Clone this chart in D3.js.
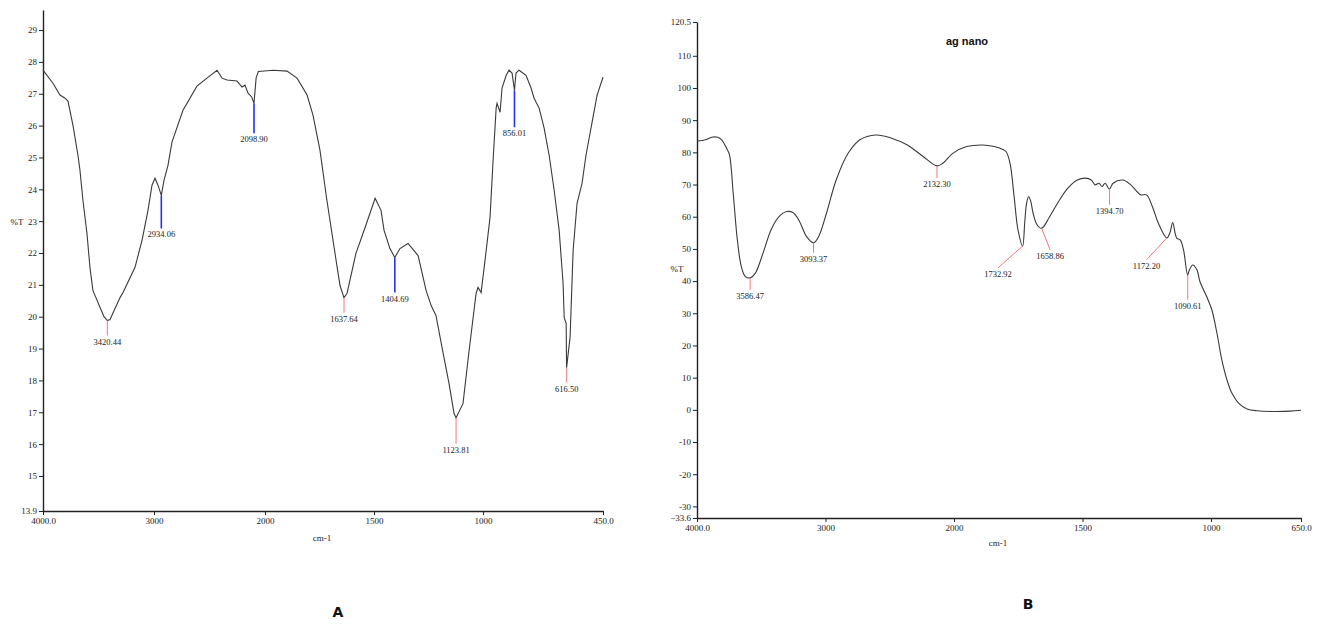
<!DOCTYPE html>
<html>
<head>
<meta charset="utf-8">
<script src="https://cdn.jsdelivr.net/npm/d3@7/dist/d3.min.js"></script>
<style>
  body { margin: 0; background: #fff; }
  svg { display: block; }
  .tick text { font-family: "Liberation Serif", "DejaVu Serif", serif; font-size: 9px; fill: #222; }
  .lbl { font-family: "Liberation Serif", serif; font-size: 8.5px; fill: #222; }
</style>
</head>
<body>
<svg id="chart" width="1317" height="624"></svg>
<script>
// ---------------- Data: panel A ----------------
const wavenumberA = [4000,3910,3847,3802,3775,3730,3685,3667,3640,3604,3577,3550,3523,3486,3450,3420,3396,3351,3306,3279,3171,3108,3054,3018,2991,2964,2934,2910,2874,2838,2739,2613,2523,2432,2387,2342,2252,2207,2180,2153,2120,2099,2080,2060,1963,1899,1853,1807,1780,1748,1716,1674,1656,1638,1624,1583,1541,1495,1468,1454,1427,1405,1381,1344,1298,1261,1238,1216,1188,1156,1133,1124,1092,1064,1032,1023,1009,991,968,954,940,936,922,913,894,881,867,856,849,835,803,780,766,743,720,697,674,651,633,628,619,617,601,587,569,546,528,500,477,450];
const transA = [27.74,27.33,26.96,26.86,26.77,26.01,25.07,24.6,23.65,22.62,21.55,20.82,20.6,20.29,20.0,19.88,19.91,20.26,20.6,20.76,21.55,22.4,23.34,24.13,24.35,24.13,23.81,24.28,24.75,25.48,26.48,27.24,27.49,27.74,27.49,27.43,27.4,27.21,27.27,27.02,26.9,26.7,27.5,27.7,27.74,27.71,27.49,26.96,26.33,25.23,23.65,21.77,20.98,20.6,20.73,21.99,22.8,23.72,23.34,22.71,22.14,21.86,22.14,22.3,21.92,20.82,20.35,20.04,19.03,17.9,16.96,16.83,17.27,18.94,20.73,20.92,20.76,21.77,23.12,24.91,26.55,26.7,26.42,27.18,27.58,27.74,27.65,27.11,27.65,27.74,27.58,27.18,26.86,26.55,25.92,25.07,23.97,22.71,21.04,19.97,19.79,18.4,19.35,22.08,23.56,24.19,25.07,26.11,26.96,27.52];
const peakWA = [3420.44, 2934.06, 2098.90, 1637.64, 1404.69, 1123.81, 856.01, 616.50];
const peakTA = [19.88, 23.81, 26.7, 20.6, 21.86, 16.83, 27.11, 18.4];
const peakEndTA = [19.41, 22.77, 25.76, 20.13, 20.76, 16.01, 25.95, 17.93];
const peakKindA = ["main","minor","minor","main","minor","main","minor","main"];
const yTicksA = [13.9,15,16,17,18,19,20,21,22,23,24,25,26,27,28,29];
const xTicksA = [4000,3000,2000,1500,1000,450];

// ---------------- Data: panel B ----------------
const wavenumberB = [4000,3931,3886,3839,3808,3763,3747,3716,3686,3655,3624,3586,3547,3486,3424,3362,3301,3254,3208,3147,3093,3054,2993,2917,2824,2732,2609,2486,2363,2240,2132,2087,2010,1951,1889,1843,1812,1797,1782,1766,1751,1733,1725,1718,1710,1702,1692,1677,1659,1628,1597,1558,1520,1489,1466,1451,1436,1424,1412,1395,1381,1343,1312,1274,1251,1228,1205,1172,1160,1149,1140,1133,1120,1107,1091,1084,1071,1055,1043,1017,997,977,958,938,919,893,860,821,758,692,650];
const transB = [83.5,83.9,84.7,84.7,83.9,80.7,79.2,66.2,52.8,44.5,41.4,41,42.4,48.7,55.9,60,61.6,61.3,59,53.8,51.9,53.8,61,71.4,79.7,83.9,85.4,84.4,82.3,78.7,75.8,76.6,79.7,81.8,82.3,81.8,81.0,80.2,76.6,66.2,55.9,50.9,58,64,66.2,65,61,57.5,56.4,60,64.2,68.8,71.4,72,71.4,69.9,70.4,69.4,70.4,68.6,70.4,71.4,69.9,66.8,66.8,63.1,58,53.4,55,58.2,55,53.3,52.8,49.7,41.9,43.5,45,43.5,39.8,35.2,31.1,23.8,15.5,9.3,5.2,2.1,0.3,-0.3,-0.5,-0.4,-0.1];
const peakWB = [3586.47, 3093.37, 2132.30, 1732.92, 1658.86, 1394.70, 1172.20, 1090.61];
const peakTB = [41, 51.9, 75.8, 50.9, 56.4, 68.6, 53.4, 41.9];
const peakLabelWB = [3586.47, 3093.37, 2132.30, 1829, 1626, 1394.70, 1251, 1090.61];
const peakEndTB = [37.3, 48.8, 72, 44.1, 49.7, 63.7, 46.6, 34.2];
const yTicksB = [-33.6,-30,-20,-10,0,10,20,30,40,50,60,70,80,90,100,110,120.5];
const xTicksB = [4000,3000,2000,1500,1000,650];
const titleB = "ag nano";

// ---------------- Drawing ----------------
const svg = d3.select("#chart");
const serif = '"Liberation Serif", "DejaVu Serif", serif';

function fmtX(ends) { return d => ends.includes(d) ? d3.format(".1f")(d) : String(d); }
function fmtY(d) { return Number.isInteger(d) ? String(d) : d3.format(".1f")(d); }

function panel(cfg) {
  const g = svg.append("g");
  const x = cfg.x, y = cfg.y;
  const ax = g.append("g").attr("transform", `translate(0,${y.range()[0]})`)
    .call(d3.axisBottom(x).tickValues(cfg.xTicks).tickSizeInner(4).tickSizeOuter(0).tickPadding(3).tickFormat(fmtX(cfg.xEnds)));
  const ay = g.append("g").attr("transform", `translate(${x.range()[0]},0)`)
    .call(d3.axisLeft(y).tickValues(cfg.yTicks).tickSizeInner(4).tickSizeOuter(0).tickPadding(2).tickFormat(fmtY));
  [ax, ay].forEach(a => {
    a.select(".domain").attr("stroke", "#222").attr("stroke-width", 1.4);
    a.selectAll(".tick line").attr("stroke", "#222");
  });
  // axis titles
  g.append("text").attr("x", cfg.yTitle[0]).attr("y", cfg.yTitle[1]).attr("text-anchor", "middle")
    .attr("font-family", serif).attr("font-size", 9).attr("fill", "#222").text("%T");
  g.append("text").attr("x", cfg.xTitle[0]).attr("y", cfg.xTitle[1]).attr("text-anchor", "middle")
    .attr("font-family", serif).attr("font-size", 9).attr("fill", "#222").text("cm-1");
  // spectrum
  const pts = cfg.w.map((d, i) => [d, cfg.t[i]]);
  g.append("path").datum(pts)
    .attr("fill", "none").attr("stroke", "#3a3a3a").attr("stroke-width", 1.1)
    .attr("d", d3.line().x(d => x(d[0])).y(d => y(d[1])).curve(cfg.curve));
  // peak markers
  cfg.pw.forEach((pw, i) => {
    const x1 = x(pw), y1 = y(cfg.pt[i]);
    const x2 = x(cfg.plw[i]), y2 = y(cfg.pe[i]);
    g.append("line").attr("x1", x1).attr("y1", y1).attr("x2", x2).attr("y2", y2)
      .attr("stroke", cfg.color(i)).attr("stroke-width", cfg.lw(i));
    g.append("text").attr("class", "lbl").attr("x", x2).attr("y", y2 + 9)
      .attr("text-anchor", "middle").text(d3.format(".2f")(pw));
  });
}

panel({
  x: d3.scaleLinear().domain([4000, 2000, 450]).range([43, 265, 603]),
  y: d3.scaleLinear().domain([13.9, 29.63]).range([511, 10]),
  xTicks: xTicksA, yTicks: yTicksA, xEnds: [4000, 450],
  yTitle: [17, 225], xTitle: [322, 541],
  w: wavenumberA, t: transA, curve: d3.curveLinear,
  pw: peakWA, pt: peakTA, plw: peakWA, pe: peakEndTA,
  color: i => peakKindA[i] === "main" ? "#f27878" : "#2233ee",
  lw: i => peakKindA[i] === "main" ? 1 : 1.6
});

panel({
  x: d3.scaleLinear().domain([4000, 2000, 650]).range([697, 954, 1301]),
  y: d3.scaleLinear().domain([-33.6, 120.5]).range([518, 22]),
  xTicks: xTicksB, yTicks: yTicksB, xEnds: [4000, 650],
  yTitle: [677, 272], xTitle: [998, 546],
  w: wavenumberB, t: transB, curve: d3.curveCatmullRom.alpha(0.5),
  pw: peakWB, pt: peakTB, plw: peakLabelWB, pe: peakEndTB,
  color: () => "#f27878", lw: () => 1
});

svg.append("text").attr("x", 967).attr("y", 45).attr("text-anchor", "middle")
  .attr("font-family", '"Liberation Sans", Arial, sans-serif').attr("font-weight", "bold")
  .attr("font-size", 11).attr("fill", "#111").text(titleB);
svg.append("text").attr("x", 338).attr("y", 617).attr("text-anchor", "middle")
  .attr("font-family", '"DejaVu Sans", sans-serif').attr("font-weight", "bold")
  .attr("font-size", 14).attr("fill", "#111").text("A");
svg.append("text").attr("x", 1028).attr("y", 609).attr("text-anchor", "middle")
  .attr("font-family", '"DejaVu Sans", sans-serif').attr("font-weight", "bold")
  .attr("font-size", 14).attr("fill", "#111").text("B");
</script>
</body>
</html>
